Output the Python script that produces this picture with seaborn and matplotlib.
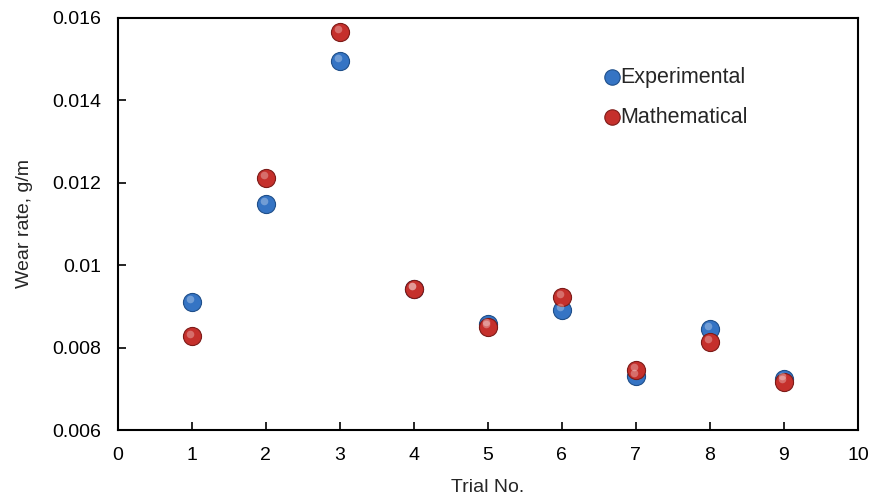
import numpy as np
import pandas as pd
import matplotlib
matplotlib.use("Agg")
import matplotlib.pyplot as plt
import seaborn as sns

# values
trials = [1, 2, 3, 4, 5, 6, 7, 8, 9]
experimental = [0.00911, 0.01149, 0.01496, 0.00943, 0.00856, 0.00891, 0.00731, 0.00846, 0.00724]
mathematical = [0.00827, 0.01211, 0.01566, 0.00943, 0.00851, 0.00922, 0.00746, 0.00814, 0.00716]
x_ticks = list(range(0, 11))
y_ticks = [0.006, 0.008, 0.01, 0.012, 0.014, 0.016]
y_tick_labels = ["0.006", "0.008", "0.01", "0.012", "0.014", "0.016"]

sns.set_style("white")
plt.rcParams["font.family"] = ["Liberation Sans", "DejaVu Sans"]

df = pd.DataFrame({
    "Trial": trials * 2,
    "Wear": experimental + mathematical,
    "Series": ["Experimental"] * len(trials) + ["Mathematical"] * len(trials),
})

palette = {"Experimental": "#3574c4", "Mathematical": "#c5302c"}
edges = {"Experimental": "#1f4f8a", "Mathematical": "#7d1b18"}

fig = plt.figure(figsize=(8.79, 4.98), dpi=100)
ax = fig.add_axes([0.134, 0.1365, 0.842, 0.828])

for name in ["Experimental", "Mathematical"]:
    sub = df[df["Series"] == name]
    sns.scatterplot(data=sub, x="Trial", y="Wear", ax=ax, color=palette[name],
                    s=170, edgecolor=edges[name], linewidth=0.8, label=name, zorder=3)
    # small highlight to mimic the shaded spheres
    ax.scatter(sub["Trial"] - 0.03, sub["Wear"] + 0.00007, s=30,
               color="white", alpha=0.3, linewidth=0, zorder=4)

ax.set_xlim(0, 10)
ax.set_ylim(0.006, 0.016)
ax.set_xticks(x_ticks)
ax.set_yticks(y_ticks)
ax.set_yticklabels(y_tick_labels)
ax.tick_params(direction="in", length=6, width=1.2, labelsize=14,
               colors="black", bottom=True, left=True)
ax.tick_params(axis="y", pad=12)
ax.tick_params(axis="x", pad=12)
for sp in ax.spines.values():
    sp.set_color("black")
    sp.set_linewidth(1.5)

ax.set_xlabel("Trial No.", fontsize=14, labelpad=11)
ax.set_ylabel("Wear rate, g/m", fontsize=14, labelpad=14)

ax.legend(loc="upper left", bbox_to_anchor=(0.627, 0.902), frameon=False,
          fontsize=15.5, handletextpad=-0.6, labelspacing=0.9, markerscale=0.85,
          borderaxespad=0)

fig.savefig("out.png", dpi=100)
